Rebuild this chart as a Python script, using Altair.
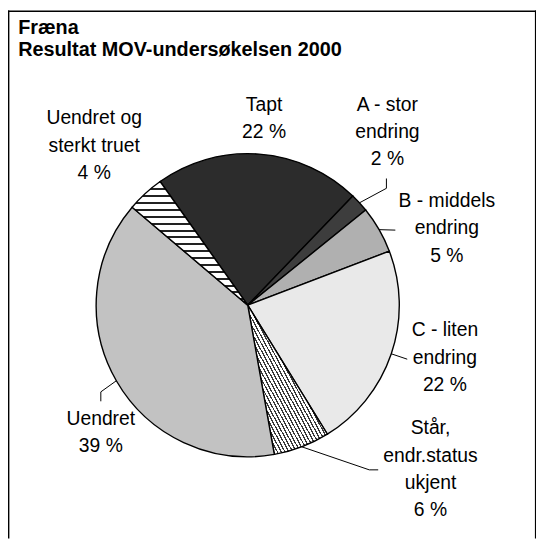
import math
import altair as alt
import pandas as pd

# ---------------- data ----------------
categories = ["Tapt", "A - stor endring", "B - middels endring", "C - liten endring",
              "Står, endr.status ukjent", "Uendret", "Uendret og sterkt truet"]
percent = [22, 2, 5, 22, 6, 39, 4]
label_text = ["Tapt", "A - stor\nendring", "B - middels\nendring", "C - liten\nendring",
              "Står,\nendr.status\nukjent", "Uendret", "Uendret og\nsterkt truet"]
title_lines = ["Fræna", "Resultat MOV-undersøkelsen 2000"]

# ---------------- layout (annotation placement) ----------------
CX, CY, R = 242, 297.5, 153
START = math.radians(-35.3)
W, H = 533, 533
# centre of the first line of each label (pixels)
label_pos = {
    "Tapt": (258.5, 95),
    "A - stor endring": (383, 95),
    "B - middels endring": (443, 192.5),
    "C - liten endring": (441, 323),
    "Står, endr.status ukjent": (426.5, 422),
    "Uendret": (93.7, 412),
    "Uendret og sterkt truet": (87, 109),
}
# leader-line bends / ends (after the point on the pie edge)
leader_pts = {
    "A - stor endring": [(382, 179.5), (382, 169.6)],
    "B - middels endring": [(391, 221.7)],
    "C - liten endring": [(403, 352)],
    "Står, endr.status ukjent": [(364.7, 463.7), (373.7, 463.7)],
    "Uendret": [(93.7, 385), (93.7, 394.5)],
}

FONT = "Liberation Sans"

df = pd.DataFrame({"cat": categories, "pct": percent, "idx": list(range(len(categories)))})
df["label"] = [f"{t}\n{p} %" for t, p in zip(label_text, percent)]

total = sum(percent)
cum = 0
mid_angle = {}
for c, p in zip(categories, percent):
    mid_angle[c] = START + 2 * math.pi * (cum + p / 2) / total
    cum += p

lab_df = pd.DataFrame({
    "label": df["label"],
    "x": [label_pos[c][0] for c in categories],
    "y": [label_pos[c][1] for c in categories],
})

rows = []
for c, pts in leader_pts.items():
    a = mid_angle[c]
    sx, sy = CX + R * math.sin(a), CY - R * math.cos(a)
    rows.append({"id": c, "o": 0, "x": sx, "y": sy})
    for k, (px, py) in enumerate(pts):
        rows.append({"id": c, "o": k + 1, "x": px, "y": py})
lead_df = pd.DataFrame(rows)


def stripes(n, dark, light, frac, x1, y1, x2, y2):
    stops = []
    for i in range(n):
        a = i / n
        b = (i + frac) / n
        e = (i + 1) / n
        stops += [{"offset": a, "color": dark}, {"offset": b, "color": dark},
                  {"offset": b, "color": light}, {"offset": e, "color": light}]
    return {"gradient": "linear", "x1": x1, "y1": y1, "x2": x2, "y2": y2, "stops": stops}


hatch = stripes(42, "#3a3a3a", "#ffffff", 0.38, 0, 1, 1, 0)
waves = stripes(18, "#222222", "#ffffff", 0.28, 0, 0, 0, 1)

fills = ["#2c2c2c", "#3d3d3d", "#b0b0b0", "#e9e9e9", "#b4b4b4", "#c2c2c2", "#cfcfcf"]

pie = alt.Chart(df).mark_arc(radius=R, stroke="black", strokeWidth=1.4).encode(
    theta=alt.Theta("pct:Q", stack=True,
                    scale=alt.Scale(range=[START, START + 2 * math.pi])),
    order=alt.Order("idx:Q"),
    color=alt.Color("cat:N", scale=alt.Scale(domain=categories, range=fills), legend=None,
                    condition=[
                        {"test": "datum.cat === 'Står, endr.status ukjent'", "value": hatch},
                        {"test": "datum.cat === 'Uendret og sterkt truet'", "value": waves},
                    ]),
    x=alt.value(CX),
    y=alt.value(CY),
)

leaders = alt.Chart(lead_df).mark_line(color="black", strokeWidth=1).encode(
    x=alt.X("x:Q", scale=None, axis=None),
    y=alt.Y("y:Q", scale=None, axis=None),
    detail="id:N",
    order="o:Q",
)

labels = alt.Chart(lab_df).mark_text(
    font=FONT, fontSize=19.5, lineBreak="\n", lineHeight=27.5,
    align="center", baseline="middle", color="black",
).encode(
    x=alt.X("x:Q", scale=None, axis=None),
    y=alt.Y("y:Q", scale=None, axis=None),
    text="label:N",
)

title = alt.Chart(pd.DataFrame({"t": ["\n".join(title_lines)]})).mark_text(
    font=FONT, fontSize=20, fontWeight="bold", lineBreak="\n", lineHeight=22.6,
    align="left", baseline="alphabetic", color="black",
).encode(x=alt.value(10.3), y=alt.value(23.7), text="t:N")

frame_df = pd.DataFrame({"x": [0.7, 0, 532.6], "y": [0, 0.7, 0],
                         "x2": [0.7, 533.3, 532.6], "y2": [H, 0.7, H]})
frame = alt.Chart(frame_df).mark_rule(color="black", strokeWidth=1.4).encode(
    x=alt.X("x:Q", scale=None, axis=None), y=alt.Y("y:Q", scale=None, axis=None),
    x2="x2:Q", y2="y2:Q",
)

chart = alt.layer(pie, leaders, labels, title, frame).properties(
    width=W, height=H, padding=0, autosize=alt.AutoSizeParams(type="none"),
    background="white",
).configure_view(stroke=None)

chart.save("out.html", embed_options={"renderer": "svg", "actions": False})
